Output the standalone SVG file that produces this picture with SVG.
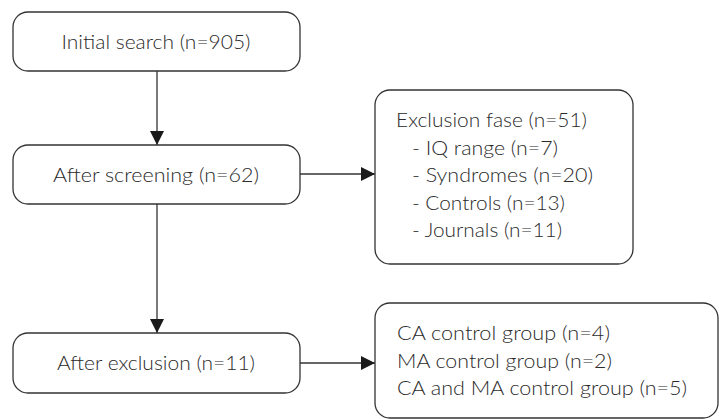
<svg xmlns="http://www.w3.org/2000/svg" width="719" height="419" viewBox="0 0 719 419">
<defs>
<style>
.box{fill:#fff;stroke:#333;stroke-width:1.3}
.t{font-family:Lato,"Open Sans","Liberation Sans",sans-serif;font-size:20.5px;font-weight:300;fill:#2a2a2a}
.c{text-anchor:middle}
.ln{stroke:#333;stroke-width:1.3;fill:none}
</style>
<marker id="ah" markerWidth="14" markerHeight="14" viewBox="0 0 14 14" refX="14" refY="7" orient="auto" markerUnits="userSpaceOnUse">
<path d="M0,0 L14,7 L0,14 Z" fill="#1a1a1a"/>
</marker>
</defs>
<rect width="719" height="419" fill="#fff"/>
<g id="connectors">
<line class="ln" x1="157" y1="71" x2="157" y2="145" marker-end="url(#ah)"/>
<line class="ln" x1="300" y1="174" x2="375" y2="174" marker-end="url(#ah)"/>
<line class="ln" x1="157" y1="204" x2="157" y2="333" marker-end="url(#ah)"/>
<line class="ln" x1="300" y1="363" x2="375" y2="363" marker-end="url(#ah)"/>
</g>
<g id="initial">
<rect class="box" x="13" y="12" width="287" height="59" rx="15"/>
<text class="t c" x="156" y="49" textLength="189" lengthAdjust="spacingAndGlyphs">Initial search (n=905)</text>
</g>
<g id="screening">
<rect class="box" x="13" y="145" width="287" height="59" rx="15"/>
<text class="t c" x="156" y="182" textLength="206" lengthAdjust="spacingAndGlyphs">After screening (n=62)</text>
</g>
<g id="exclusion-fase">
<rect class="box" x="375" y="90" width="258" height="174" rx="15"/>
<text class="t" x="396" y="127" textLength="191" lengthAdjust="spacingAndGlyphs">Exclusion fase (n=51)</text>
<text class="t" x="412" y="155" textLength="146" lengthAdjust="spacingAndGlyphs">- IQ range (n=7)</text>
<text class="t" x="412" y="182" textLength="181" lengthAdjust="spacingAndGlyphs">- Syndromes (n=20)</text>
<text class="t" x="412" y="210" textLength="153" lengthAdjust="spacingAndGlyphs">- Controls (n=13)</text>
<text class="t" x="412" y="237" textLength="150" lengthAdjust="spacingAndGlyphs">- Journals (n=11)</text>
</g>
<g id="after-exclusion">
<rect class="box" x="13" y="333" width="287" height="60" rx="15"/>
<text class="t c" x="156" y="370" textLength="198" lengthAdjust="spacingAndGlyphs">After exclusion (n=11)</text>
</g>
<g id="groups">
<rect class="box" x="375" y="303" width="343" height="115" rx="15"/>
<text class="t" x="397" y="340" textLength="213" lengthAdjust="spacingAndGlyphs">CA control group (n=4)</text>
<text class="t" x="397" y="368" textLength="215" lengthAdjust="spacingAndGlyphs">MA control group (n=2)</text>
<text class="t" x="397" y="395" textLength="290" lengthAdjust="spacingAndGlyphs">CA and MA control group (n=5)</text>
</g>
</svg>
